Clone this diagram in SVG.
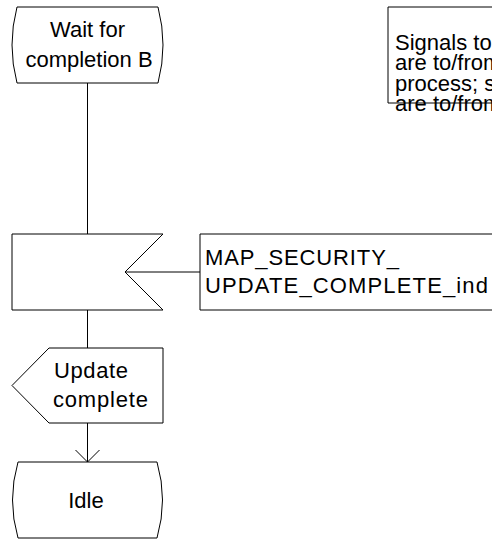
<svg xmlns="http://www.w3.org/2000/svg" width="492" height="541" viewBox="0 0 492 541">
<style>
.s{fill:#fff;stroke:#000;stroke-width:1}
.l{fill:none;stroke:#000;stroke-width:1}
text{font-family:"Liberation Sans",Arial,sans-serif;font-size:22px;fill:#000}
.c{text-anchor:middle}
</style>
<rect width="492" height="541" fill="#fff"/>
<g id="connectors">
<line class="l" x1="87.5" y1="83" x2="87.5" y2="234"/>
<line class="l" x1="87.5" y1="310" x2="87.5" y2="348"/>
<line class="l" x1="87.5" y1="423" x2="87.5" y2="462"/>
<polyline class="l" points="75.5,450 87.5,462 99.5,450"/>
<line class="l" x1="125" y1="272" x2="200" y2="272"/>
</g>
<g id="state-wait">
<path class="s" d="M17,7 L158,7 Q168,45 158,83 L17,83 Q7,45 17,7 Z"/>
<text class="c" x="87.5" y="37">Wait for</text>
<text class="c" x="89" y="67">completion B</text>
</g>
<g id="input-signal">
<path class="s" d="M12,234 L163,234 L125,272 L163,310 L12,310 Z"/>
</g>
<g id="signal-label">
<path class="l" d="M500,234 L200,234 L200,310 L500,310"/>
<text x="205" y="265" textLength="194" lengthAdjust="spacing">MAP_SECURITY_</text>
<text x="205" y="293" textLength="283" lengthAdjust="spacing">UPDATE_COMPLETE_ind</text>
</g>
<g id="output-update">
<path class="s" d="M49,348 L163,348 L163,423 L49,423 L12,385.5 Z"/>
<text x="54" y="378" textLength="74" lengthAdjust="spacing">Update</text>
<text x="53" y="407" textLength="95" lengthAdjust="spacing">complete</text>
</g>
<g id="state-idle">
<path class="s" d="M18,462 L157,462 Q168,500 157,538 L18,538 Q7,500 18,462 Z"/>
<text class="c" x="86" y="508">Idle</text>
</g>
<g id="note">
<path class="l" d="M500,7 L388,7 L388,103 L500,103"/>
<text x="395" y="50">Signals to</text>
<text x="395" y="70">are to/from</text>
<text x="395" y="91">process; s</text>
<text x="395" y="111">are to/from</text>
</g>
</svg>
